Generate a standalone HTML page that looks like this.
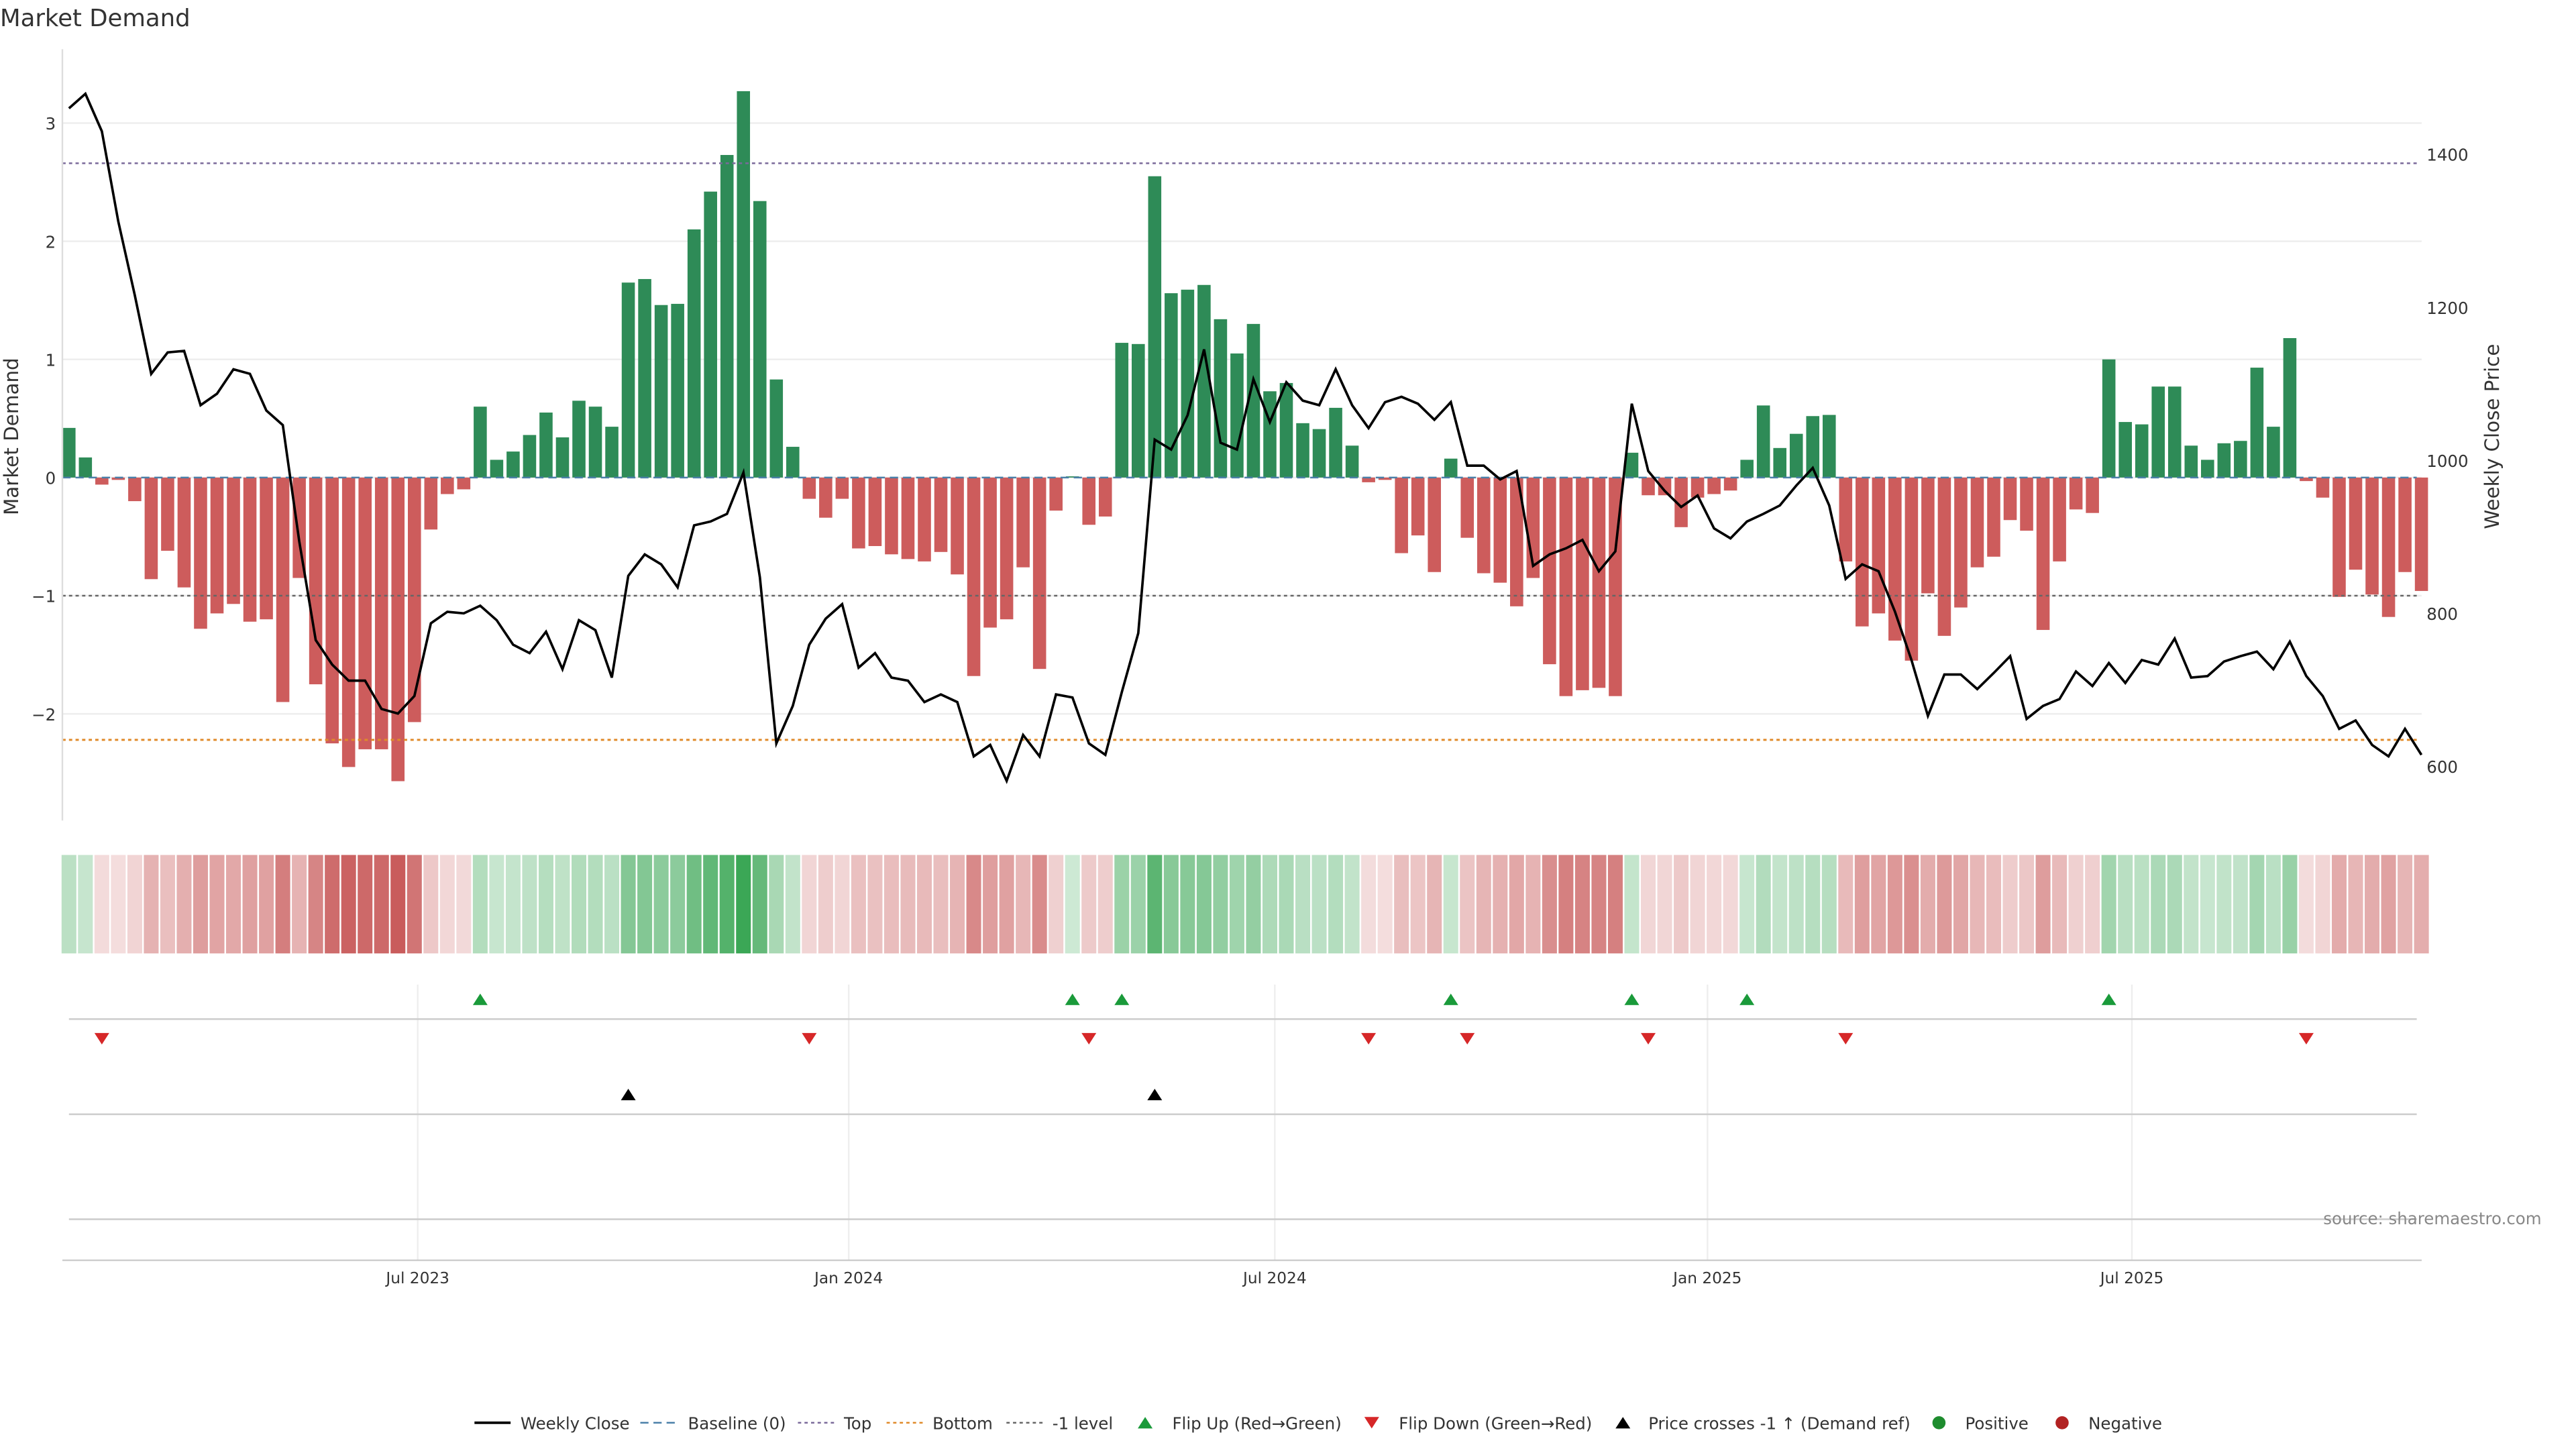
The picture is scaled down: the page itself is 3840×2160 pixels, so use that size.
<!DOCTYPE html>
<html><head><meta charset="utf-8"><style>
html,body{margin:0;padding:0;background:#fff;}
svg{display:block;font-family:"DejaVu Sans","Liberation Sans",sans-serif;}
</style></head><body>
<svg id="chart" width="3840" height="2160" viewBox="0 0 1569 883" preserveAspectRatio="none" xmlns="http://www.w3.org/2000/svg">
<text x="0" y="16" font-size="14.5" fill="#333">Market Demand</text>
<g id="grid"></g>
<g id="bars"></g>
<g id="refs"></g>
<g id="price"></g>
<g id="strip"></g>
<g id="markers"></g>
<g id="axes"></g>
<text x="1548" y="746" font-size="10" fill="#888" text-anchor="end">source: sharemaestro.com</text>
<g id="legend"></g>
</svg>
<script>
const demand=[0.42,0.17,-0.06,-0.02,-0.2,-0.86,-0.62,-0.93,-1.28,-1.15,-1.07,-1.22,-1.2,-1.9,-0.85,-1.75,-2.25,-2.45,-2.3,-2.3,-2.57,-2.07,-0.44,-0.14,-0.1,0.6,0.15,0.22,0.36,0.55,0.34,0.65,0.6,0.43,1.65,1.68,1.46,1.47,2.1,2.42,2.73,3.27,2.34,0.83,0.26,-0.18,-0.34,-0.18,-0.6,-0.58,-0.65,-0.69,-0.71,-0.63,-0.82,-1.68,-1.27,-1.2,-0.76,-1.62,-0.28,0.01,-0.4,-0.33,1.14,1.13,2.55,1.56,1.59,1.63,1.34,1.05,1.3,0.73,0.8,0.46,0.41,0.59,0.27,-0.04,-0.02,-0.64,-0.49,-0.8,0.16,-0.51,-0.81,-0.89,-1.09,-0.85,-1.58,-1.85,-1.8,-1.78,-1.85,0.21,-0.15,-0.15,-0.42,-0.17,-0.14,-0.11,0.15,0.61,0.25,0.37,0.52,0.53,-0.71,-1.26,-1.15,-1.38,-1.55,-0.98,-1.34,-1.1,-0.76,-0.67,-0.36,-0.45,-1.29,-0.71,-0.27,-0.3,1.0,0.47,0.45,0.77,0.77,0.27,0.15,0.29,0.31,0.93,0.43,1.18,-0.03,-0.17,-1.01,-0.78,-0.99,-1.18,-0.8,-0.96];
const close=[1460,1479,1430,1312,1216,1113,1141,1143,1072,1087,1119,1113,1065,1046,894,765,733,712,712,675,669,692,787,802,800,810,791,759,748,776,727,791,778,716,849,877,864,834,915,920,930,984,847,630,679,759,793,812,729,748,716,712,684,694,684,613,628,581,641,613,694,690,630,615,697,774,1027,1014,1059,1145,1023,1014,1106,1050,1102,1078,1072,1119,1072,1042,1076,1083,1074,1053,1076,993,993,975,986,862,877,885,896,855,881,1074,986,960,939,954,911,898,920,930,941,967,990,941,845,864,855,802,739,666,720,720,701,722,744,662,679,688,724,705,735,709,739,733,767,716,718,737,744,750,727,763,718,692,649,660,628,613,649,615];
const crossIdx=[34,66];
const leftTicks=[-2,-1,0,1,2,3];
const rightTicks=[600,800,1000,1200,1400];
const xTickLabels=["Jul 2023","Jan 2024","Jul 2024","Jan 2025","Jul 2025"];
const xTickWeeks=[21.2,47.4,73.3,99.6,125.4];
const topLevel=2.66, minusLevel=-1, bottomLevel=-2.22;

const NS="http://www.w3.org/2000/svg";
function mk(parent,tag,attrs,text){const e=document.createElementNS(NS,tag);for(const k in attrs)e.setAttribute(k,attrs[k]);if(text!==undefined)e.textContent=text;document.getElementById(parent).appendChild(e);return e;}
const X=i=>42+i*10.02;
const Y=v=>291-v*72;
const YR=p=>467-(p-600)*373/800;

leftTicks.forEach(t=>{mk('grid','line',{x1:38,x2:1475,y1:Y(t),y2:Y(t),stroke:'#eee','stroke-width':1});
const l=mk('axes','text',{x:34,y:Y(t)+4,'font-size':10,'text-anchor':'end',fill:'#333'},(t<0?'\u2212':'')+Math.abs(t));
});
rightTicks.forEach(t=>{const l=mk('axes','text',{x:1478,y:YR(t)+4,'font-size':10,fill:'#333'},String(t));
});
xTickWeeks.forEach((w,k)=>{const x=X(w);
mk('grid','line',{x1:x,x2:x,y1:600,y2:768,stroke:'#eee','stroke-width':1});
const l=mk('axes','text',{x:x,y:782,'font-size':9.5,'text-anchor':'middle',fill:'#333'},xTickLabels[k]);
});
mk('axes','line',{x1:38,x2:38,y1:30,y2:500,stroke:'#ddd'});
mk('axes','line',{x1:38,x2:1475,y1:768,y2:768,stroke:'#ccc'});
[621,679,743].forEach(y=>mk('axes','line',{x1:42,x2:1472,y1:y,y2:y,stroke:'#ccc'}));
let a=mk('axes','text',{x:11,y:266,'font-size':12,fill:'#333','text-anchor':'middle',transform:'rotate(-90 11 266)'},'Market Demand');

a=mk('axes','text',{x:1522,y:266,'font-size':12,fill:'#333','text-anchor':'middle',transform:'rotate(-90 1522 266)'},'Weekly Close Price');


demand.forEach((v,i)=>{const y0=Y(0),y1=Y(v);
const b=mk('bars','rect',{x:X(i)-4,y:Math.min(y0,y1),width:8,height:Math.max(Math.abs(y1-y0),0.5),fill:v>=0?'#2e8b57':'#cd5c5c'});
});
mk('refs','line',{x1:38,x2:1472,y1:Y(0),y2:Y(0),stroke:'#4a7fa8','stroke-dasharray':'5 3','stroke-width':1});
mk('refs','line',{x1:38,x2:1472,y1:Y(topLevel),y2:Y(topLevel),stroke:'#7a6a9a','stroke-dasharray':'2 2','stroke-width':1});
mk('refs','line',{x1:38,x2:1472,y1:Y(minusLevel),y2:Y(minusLevel),stroke:'#666','stroke-dasharray':'2 2','stroke-width':1});
mk('refs','line',{x1:38,x2:1472,y1:Y(bottomLevel),y2:Y(bottomLevel),stroke:'#e08a2a','stroke-dasharray':'2 2','stroke-width':1.2});

const pl=mk('price','polyline',{points:close.map((p,i)=>X(i)+','+YR(p)).join(' '),fill:'none',stroke:'#000','stroke-width':1.5});


function mix(c,t){return 'rgb('+c.map(v=>Math.round(255+(v-255)*t)).join(',')+')';}
demand.forEach((v,i)=>{const pos=v>0;const t=pos?0.25+0.75*Math.min(v/3.3,1):0.2+0.8*Math.min(-v/2.6,1);
const c=mix(pos?[58,166,85]:[200,90,90],t);
const r=mk('strip','rect',{x:X(i)-4.5,y:521,width:9,height:60,fill:c});
});

function tri(x,y,up,col,name){const p=up?`${x-4.5},${y+3.5} ${x+4.5},${y+3.5} ${x},${y-3.5}`:`${x-4.5},${y-3.5} ${x+4.5},${y-3.5} ${x},${y+3.5}`;
const t=mk('markers','polygon',{points:p,fill:col});}
for(let i=1;i<demand.length;i++){
if(demand[i]>0&&demand[i-1]<=0)tri(X(i),609,true,'#1a9a3a','flip-up-marker');
if(demand[i]<=0&&demand[i-1]>0)tri(X(i),633,false,'#d62728','flip-down-marker');}
crossIdx.forEach(i=>tri(X(i),667,true,'#000','price-cross-marker'));

const ly=867;
function lt(x,s){const t=mk('legend','text',{x:x,y:ly+4,'font-size':10,fill:'#333'},s);}
mk('legend','line',{x1:289,x2:311,y1:ly,y2:ly,stroke:'#000','stroke-width':1.5});lt(317,'Weekly Close');
mk('legend','line',{x1:390,x2:412,y1:ly,y2:ly,stroke:'#4a7fa8','stroke-dasharray':'5 3'});lt(419,'Baseline (0)');
mk('legend','line',{x1:486,x2:508,y1:ly,y2:ly,stroke:'#7a6a9a','stroke-dasharray':'2 2'});lt(514,'Top');
mk('legend','line',{x1:540,x2:562,y1:ly,y2:ly,stroke:'#e08a2a','stroke-dasharray':'2 2'});lt(568,'Bottom');
mk('legend','line',{x1:613,x2:635,y1:ly,y2:ly,stroke:'#666','stroke-dasharray':'2 2'});lt(641,'-1 level');
mk('legend','polygon',{points:`693,${ly+3.5} 702,${ly+3.5} 697.5,${ly-3.5}`,fill:'#1a9a3a'});lt(714,'Flip Up (Red\u2192Green)');
mk('legend','polygon',{points:`831,${ly-3.5} 840,${ly-3.5} 835.5,${ly+3.5}`,fill:'#d62728'});lt(852,'Flip Down (Green\u2192Red)');
mk('legend','polygon',{points:`984,${ly+3.5} 993,${ly+3.5} 988.5,${ly-3.5}`,fill:'#000'});lt(1004,'Price crosses -1 \u2191 (Demand ref)');
mk('legend','circle',{cx:1181,cy:ly,r:4,fill:'#1e8c2e'});lt(1197,'Positive');
mk('legend','circle',{cx:1256,cy:ly,r:4,fill:'#b22222'});lt(1272,'Negative');
</script>
</body></html>
